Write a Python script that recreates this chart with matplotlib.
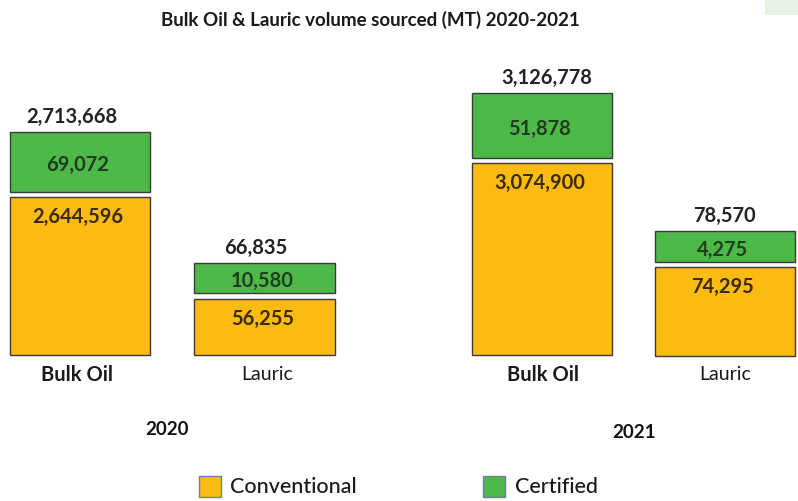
import matplotlib
matplotlib.use("Agg")
import matplotlib.pyplot as plt
from matplotlib.patches import Rectangle

# ---- data ----
years = ["2020", "2021"]
categories = ["Bulk Oil", "Lauric", "Bulk Oil", "Lauric"]
conventional = [2644596, 56255, 3074900, 74295]
certified = [69072, 10580, 51878, 4275]
totals = [2713668, 66835, 3126778, 78570]
series_names = ["Conventional", "Certified"]

# ---- layout (the original infographic is schematic, not to scale) ----
W, H = 798, 502
bar_x = [80, 264.5, 542, 725]
bar_w = [140, 141, 140, 140]
base = [146, 146, 146, 145]
conv_h = [158, 56, 192, 89]
gap = [5, 6, 5, 5]
cert_h = [60, 30, 65, 31]
total_dx = [-8, -9, 5, -1]
cat_x = [77, 267, 543, 725]
year_x = [167, 634]
year_y = [72, 69]

YELLOW = "#FCBB13"
GREEN = "#4DB848"
FONT = "Lato"
VAL_FS = 14.5

fig = plt.figure(figsize=(W / 100, H / 100), dpi=100)
ax = fig.add_axes([0, 0, 1, 1])
ax.set_xlim(0, W)
ax.set_ylim(0, H)
ax.axis("off")

ax.bar(bar_x, conv_h, width=bar_w, bottom=base, color=YELLOW,
       edgecolor="#3a3a3a", linewidth=1.0)
cert_bottom = [b + c + g for b, c, g in zip(base, conv_h, gap)]
ax.bar(bar_x, cert_h, width=bar_w, bottom=cert_bottom, color=GREEN,
       edgecolor="#3a3a3a", linewidth=1.0)

def fmt(v):
    return f"{v:,}"

for i in range(4):
    conv_top = base[i] + conv_h[i]
    cert_top = cert_bottom[i] + cert_h[i]
    ax.text(bar_x[i] - 2, conv_top - 19, fmt(conventional[i]), ha="center", va="center",
            fontsize=VAL_FS, fontweight="bold", color="#3b2c05", family=FONT)
    ax.text(bar_x[i] - 2, cert_bottom[i] + cert_h[i] / 2 - 2, fmt(certified[i]),
            ha="center", va="center", fontsize=VAL_FS, fontweight="bold",
            color="#1f3d1f", family=FONT)
    ax.text(bar_x[i] + total_dx[i], cert_top + 16, fmt(totals[i]), ha="center",
            va="center", fontsize=VAL_FS, fontweight="bold", color="#222222", family=FONT)
    ax.text(cat_x[i], H - 375, categories[i], ha="center", va="center",
            fontsize=14.5 if i % 2 == 0 else 14,
            fontweight="bold" if i % 2 == 0 else "normal",
            color="#1a1a1a", family=FONT)

for yx, yy, yr in zip(year_x, year_y, years):
    ax.text(yx, yy, yr, ha="center", va="center", fontsize=13.5,
            fontweight="bold", color="#111111", family=FONT)

ax.text(370, H - 20, "Bulk Oil & Lauric volume sourced (MT) 2020-2021",
        ha="center", va="center", fontsize=13.5, fontweight="bold",
        color="#1a1a1a", family=FONT)

# legend
legend_items = [(199, 230, YELLOW, series_names[0]), (483, 515, GREEN, series_names[1])]
for bx, tx, col, name in legend_items:
    ax.add_patch(Rectangle((bx, H - 498), 22, 21, facecolor=col,
                           edgecolor="#6d7fa0", linewidth=1.0))
    ax.text(tx, H - 487, name, ha="left", va="center", fontsize=15.5,
            color="#1a1a1a", family=FONT, fontweight="medium")

# faint decorative corner
ax.add_patch(Rectangle((765, H - 16), 33, 16, facecolor="#e9f3e3", edgecolor="none"))

fig.savefig("out.png", dpi=100)
